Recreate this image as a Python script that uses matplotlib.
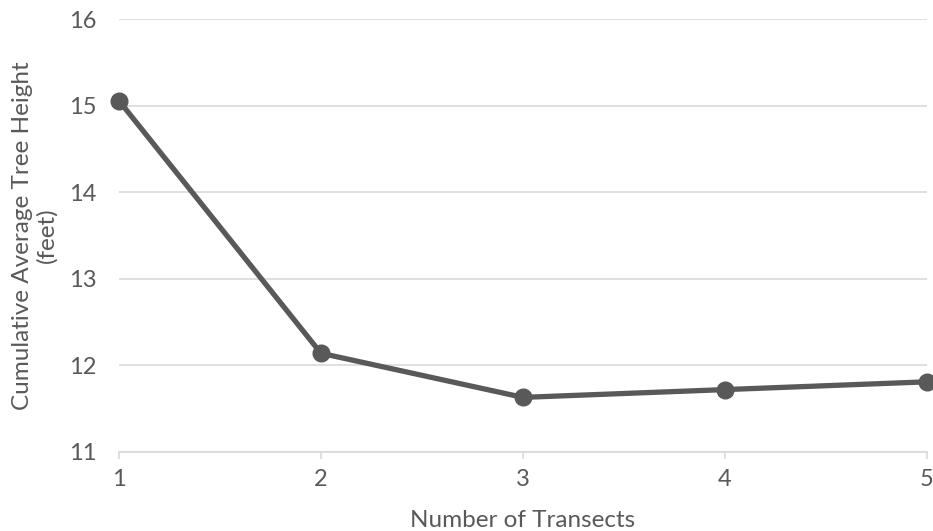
import matplotlib
matplotlib.use("Agg")
import matplotlib.pyplot as plt

# Data
transects = [1, 2, 3, 4, 5]
avg_height = [15.06, 12.14, 11.63, 11.72, 11.81]
y_ticks = [11, 12, 13, 14, 15, 16]

text_color = '#595959'
grid_color = '#d9d9d9'

plt.rcParams.update({
    'font.family': ['Lato', 'DejaVu Sans'],
    'font.size': 17,
})

fig = plt.figure(figsize=(9.33, 5.31), dpi=100)
ax = fig.add_axes([0.1275, 0.149, 0.866, 0.8145])

ax.plot(transects, avg_height, color='#595959', linewidth=3.8,
        marker='o', markersize=12, clip_on=False, zorder=3)

ax.set_xlim(1, 5)
ax.set_ylim(11, 16)
ax.set_xticks(transects)
ax.set_yticks(y_ticks)

ax.grid(axis='y', color=grid_color, linewidth=1.2)
ax.set_axisbelow(True)
for side in ['top', 'right', 'left']:
    ax.spines[side].set_visible(False)
ax.spines['bottom'].set_color(grid_color)
ax.spines['bottom'].set_linewidth(1.2)

ax.tick_params(axis='y', length=0, pad=16, labelcolor=text_color, labelsize=17)
ax.tick_params(axis='x', length=5, width=1.2, color=grid_color,
               pad=7, labelcolor=text_color, labelsize=17)

ax.set_xlabel('Number of Transects', color=text_color, fontsize=17.5)
ax.xaxis.set_label_coords(0.5, -0.135)
ax.set_ylabel('Cumulative Average Tree Height\n(feet)', color=text_color,
              fontsize=17.5, linespacing=1.15)
ax.yaxis.set_label_coords(-0.076, 0.5)

fig.savefig('out.png', dpi=100, facecolor='white')
